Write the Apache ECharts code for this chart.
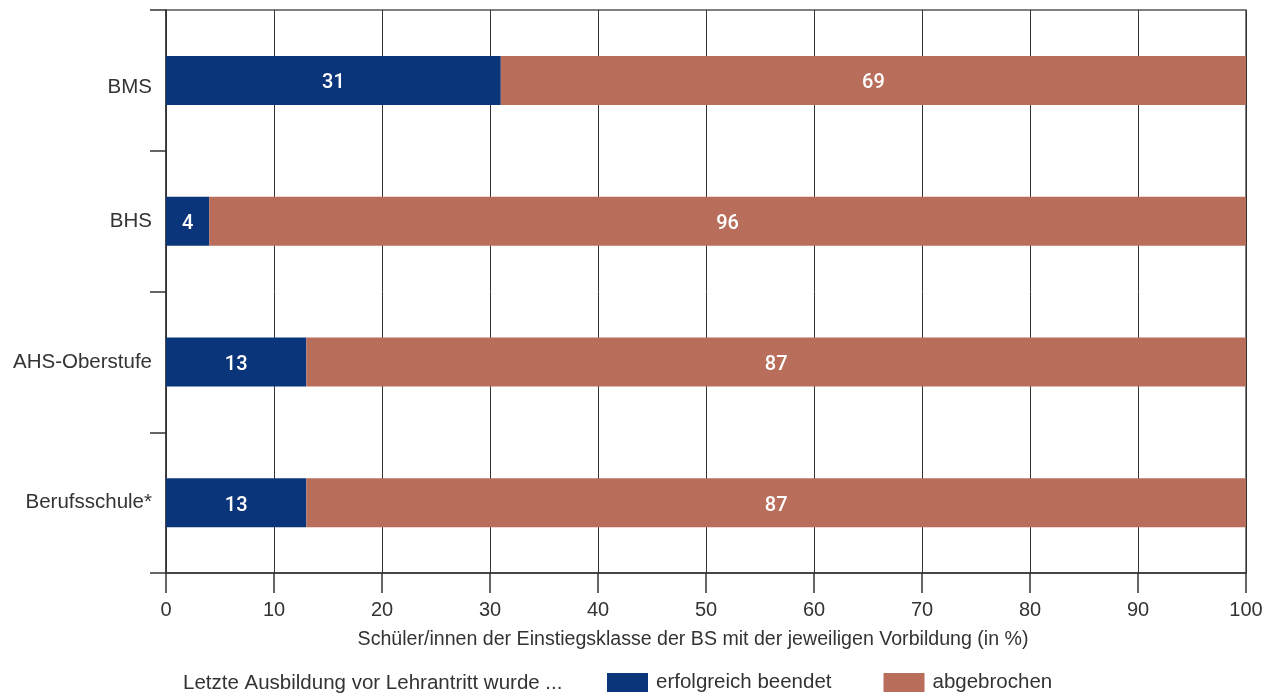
<!DOCTYPE html>
<html>
<head>
<meta charset="utf-8">
<script src="https://cdn.jsdelivr.net/npm/echarts@6/dist/echarts.min.js"></script>
<style>
  html, body { margin: 0; padding: 0; background: #fff; }
  #chart { width: 1271px; height: 697px; }
</style>
</head>
<body>
<div id="chart"></div>
<script>
// Vorbildung der Schüler/innen (von oben nach unten)
const categories = ['BMS', 'BHS', 'AHS-Oberstufe', 'Berufsschule*'];
const beendet = [31, 4, 13, 13];
const abgebrochen = [69, 96, 87, 87];
const xTicks = [0, 10, 20, 30, 40, 50, 60, 70, 80, 90, 100];
const seriesNames = ['erfolgreich beendet', 'abgebrochen'];
const legendTitle = 'Letzte Ausbildung vor Lehrantritt wurde ...';
const axisTitle = 'Schüler/innen der Einstiegsklasse der BS mit der jeweiligen Vorbildung (in %)';

const FONT = '"Liberation Sans", Arial, sans-serif';
const TEXT = '#333333';
const LINE = '#333333';
const BLUE = '#0b357a';
const BROWN = '#b86e5a';

const chart = echarts.init(document.getElementById('chart'), null, { renderer: 'canvas' });

const labelStyle = {
  show: true,
  position: 'inside',
  offset: [0, 3],
  color: '#ffffff',
  fontFamily: 'Roboto, ' + FONT,
  fontWeight: 500,
  fontSize: 20
};

chart.setOption({
  animation: false,
  textStyle: { fontFamily: FONT, color: TEXT },
  grid: {
    left: 166, right: 25, top: 10, bottom: 124,
    show: true, borderColor: '#555555', borderWidth: 1.5, backgroundColor: 'transparent'
  },
  legend: {
    left: 607, top: 672, padding: 0,
    itemWidth: 41, itemHeight: 19, itemGap: 52,
    icon: 'rect',
    selectedMode: false,
    textStyle: { fontFamily: FONT, fontSize: 20.5, color: TEXT, padding: [0, 0, 0, 3] },
    data: seriesNames
  },
  graphic: [{
    type: 'text',
    left: 183, top: 673,
    style: { text: legendTitle, font: '20.5px ' + FONT, fill: TEXT }
  }],
  xAxis: {
    type: 'value',
    min: xTicks[0], max: xTicks[xTicks.length - 1], interval: 10,
    name: axisTitle,
    nameLocation: 'middle',
    nameGap: 57,
    nameTextStyle: { fontFamily: FONT, fontSize: 19.6, color: TEXT, padding: [0, 26, 0, 0] },
    axisLine: { show: true, lineStyle: { color: LINE, width: 1.5 } },
    axisTick: { show: true, length: 20, lineStyle: { color: LINE, width: 1.5 } },
    axisLabel: { fontFamily: FONT, fontSize: 20, color: TEXT, margin: 27 },
    splitLine: { show: true, lineStyle: { color: LINE, width: 1 } }
  },
  yAxis: {
    type: 'category',
    data: categories,
    inverse: true,
    axisLine: { show: true, lineStyle: { color: LINE, width: 1.5 } },
    axisTick: { show: true, length: 16, lineStyle: { color: LINE, width: 1.5 } },
    axisLabel: {
      fontFamily: FONT, fontSize: 20.5, color: TEXT, margin: 14,
      formatter: (v, i) => i === 0 ? '{low|' + v + '}' : v,
      rich: { low: { fontFamily: FONT, fontSize: 20.5, color: TEXT, padding: [14, 0, 0, 0] } }
    },
    splitLine: { show: false }
  },
  series: [
    {
      name: seriesNames[0], type: 'bar', stack: 'total',
      data: beendet, barWidth: 49,
      itemStyle: { color: BLUE },
      label: labelStyle
    },
    {
      name: seriesNames[1], type: 'bar', stack: 'total',
      data: abgebrochen, barWidth: 49,
      itemStyle: { color: BROWN },
      label: labelStyle
    }
  ]
});
</script>
</body>
</html>
